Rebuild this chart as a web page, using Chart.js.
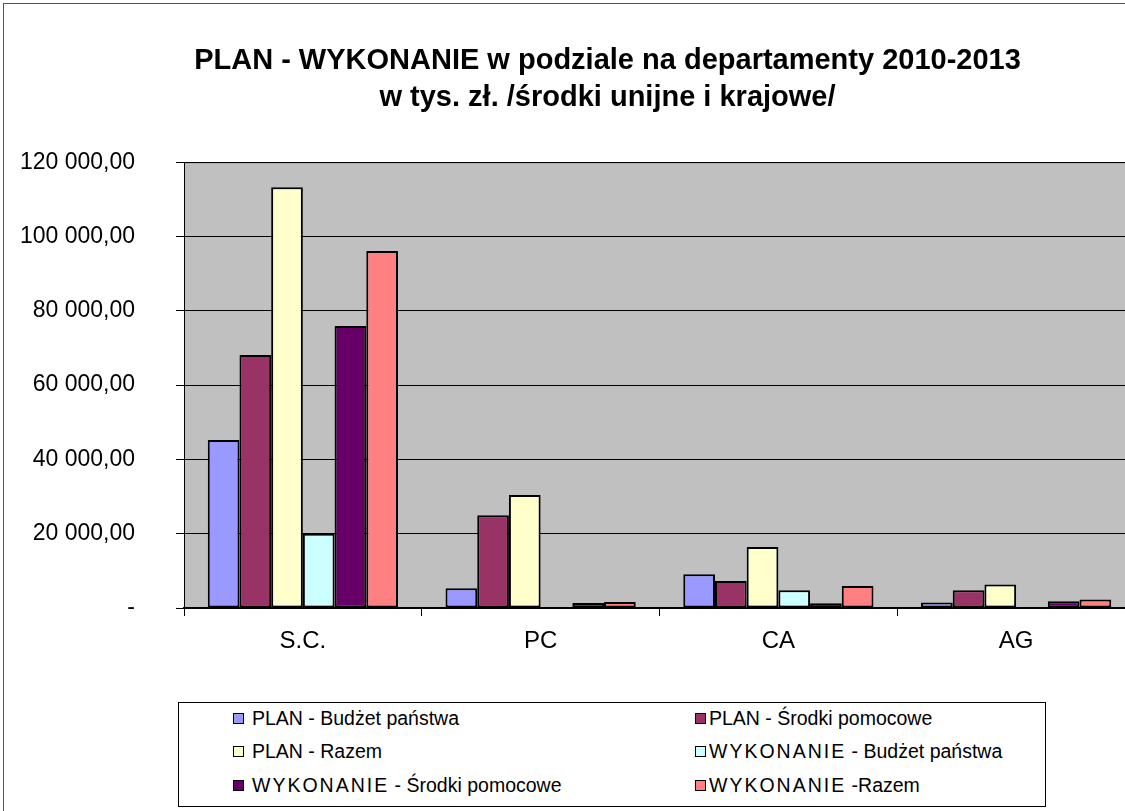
<!DOCTYPE html>
<html>
<head>
<meta charset="utf-8">
<script src="https://cdn.jsdelivr.net/npm/chart.js@4.4.0/dist/chart.umd.min.js"></script>
<style>
    body { margin: 0; width: 1125px; height: 811px; overflow: hidden; background: #fff; position: relative; }
    #wrap { position: absolute; left: 0; top: 0; width: 1140px; height: 811px; }
    #frame { position: absolute; left: 3px; top: 3px; width: 1200px; height: 900px; border: 1px solid #555; pointer-events: none; }
    #legend {
        position: absolute; left: 178px; top: 702px; width: 866px; height: 103px;
        border: 1px solid #000; background: #fff;
        font-family: "Liberation Sans", Arial, sans-serif; font-size: 19.5px; color: #000;
    }
    .item { position: absolute; white-space: nowrap; line-height: 20px; }
    .box { display: inline-block; width: 9px; height: 9px; border: 1px solid #000; vertical-align: 1px; }
    .wide { letter-spacing: 2px; }
</style>
</head>
<body>
<div id="wrap"><canvas id="chart" width="1140" height="811"></canvas></div>
<div id="frame"></div>
<div id="legend"></div>
<script>
const categories = ["S.C.", "PC", "CA", "AG"];
const seriesNames = [
    "PLAN - Budżet państwa",
    "PLAN - Środki pomocowe",
    "PLAN - Razem",
    "WYKONANIE - Budżet państwa",
    "WYKONANIE - Środki pomocowe",
    "WYKONANIE -Razem"
];
const planBudzet = [45200, 5300, 9100, 1500];
const planSrodki = [68100, 25000, 7300, 4800];
const planRazem = [113300, 30400, 16400, 6300];
const wykBudzet = [20000, 200, 4800, 200];
const wykSrodki = [75900, 1350, 1300, 1800];
const wykRazem = [96100, 1600, 5900, 2300];
const colors = ["#9999FF", "#993366", "#FFFFCC", "#CCFFFF", "#660066", "#FF8080"];
const yTicks = [0, 20000, 40000, 60000, 80000, 100000, 120000];

const allSeries = [planBudzet, planSrodki, planRazem, wykBudzet, wykSrodki, wykRazem];

function formatTick(v) {
    if (v === 0) return "-";
    return v.toLocaleString("en-US").replace(/,/g, " ") + ",00";
}

const plotBg = {
    id: "plotBg",
    afterLayout(chart) {
        // title sits a bit right of the canvas centre in the original
        if (chart.titleBlock) {
            chart.titleBlock.left += 40;
            chart.titleBlock.right += 40;
        }
    },
    beforeDraw(chart) {
        const { ctx, chartArea: a } = chart;
        ctx.save();
        ctx.fillStyle = "#C0C0C0";
        ctx.fillRect(a.left, a.top, a.right - a.left, a.bottom - a.top);
        ctx.strokeStyle = "#808080";
        ctx.lineWidth = 1;
        ctx.beginPath();
        ctx.moveTo(a.left, a.top + 0.5);
        ctx.lineTo(a.right, a.top + 0.5);
        ctx.stroke();
        ctx.restore();
    }
};

const chart = new Chart(document.getElementById("chart"), {
    type: "bar",
    data: {
        labels: categories,
        datasets: allSeries.map((data, i) => ({
            label: seriesNames[i],
            data: data,
            backgroundColor: colors[i],
            borderColor: "#000",
            borderWidth: 2,
            borderSkipped: false
        }))
    },
    options: {
        responsive: false,
        animation: false,
        layout: { padding: { left: 0, right: 5, top: 0, bottom: 0 } },
        datasets: { bar: { categoryPercentage: 0.8, barPercentage: 1 } },
        plugins: {
            legend: { display: false },
            tooltip: { enabled: false },
            title: {
                display: true,
                text: ["PLAN - WYKONANIE w podziale na departamenty 2010-2013", "w tys. zł. /środki unijne i krajowe/"],
                color: "#000",
                font: { family: "Liberation Sans", size: 29, weight: "bold", lineHeight: 1.28 },
                padding: { top: 42, bottom: 46 }
            }
        },
        scales: {
            x: {
                grid: { drawOnChartArea: false, drawTicks: true, tickLength: 8, tickColor: "#000", offset: true },
                border: { color: "#000", width: 2 },
                ticks: { color: "#000", font: { family: "Liberation Sans", size: 24 }, padding: 11 },
                afterFit(scale) { scale.height = 203; }
            },
            y: {
                min: 0,
                max: 120000,
                afterBuildTicks(scale) { scale.ticks = yTicks.map(v => ({ value: v })); },
                grid: { color: "#000", lineWidth: 1, tickLength: 8, tickColor: "#000" },
                border: { color: "#000", width: 1 },
                ticks: {
                    color: "#000",
                    font: { family: "Liberation Sans", size: 23 },
                    padding: 41,
                    callback: v => formatTick(v)
                },
                afterFit(scale) { scale.width = 184; }
            }
        }
    },
    plugins: [plotBg]
});

// legend in two columns, like the original
const legendPos = [[54, 15, 8], [516, 15, 3], [54, 48, 8], [516, 48, 3], [54, 82, 8], [516, 82, 3]];
document.getElementById("legend").innerHTML = chart.data.datasets.map((ds, i) => {
    const label = ds.label.replace("WYKONANIE", '<span class="wide">WYKONANIE</span>');
    const [x, y, gap] = legendPos[i];
    return `<div class="item" style="left:${x}px;top:${y - 10}px"><span class="box" style="background:${ds.backgroundColor};margin-right:${gap}px"></span>${label}</div>`;
}).join("");
</script>
</body>
</html>
